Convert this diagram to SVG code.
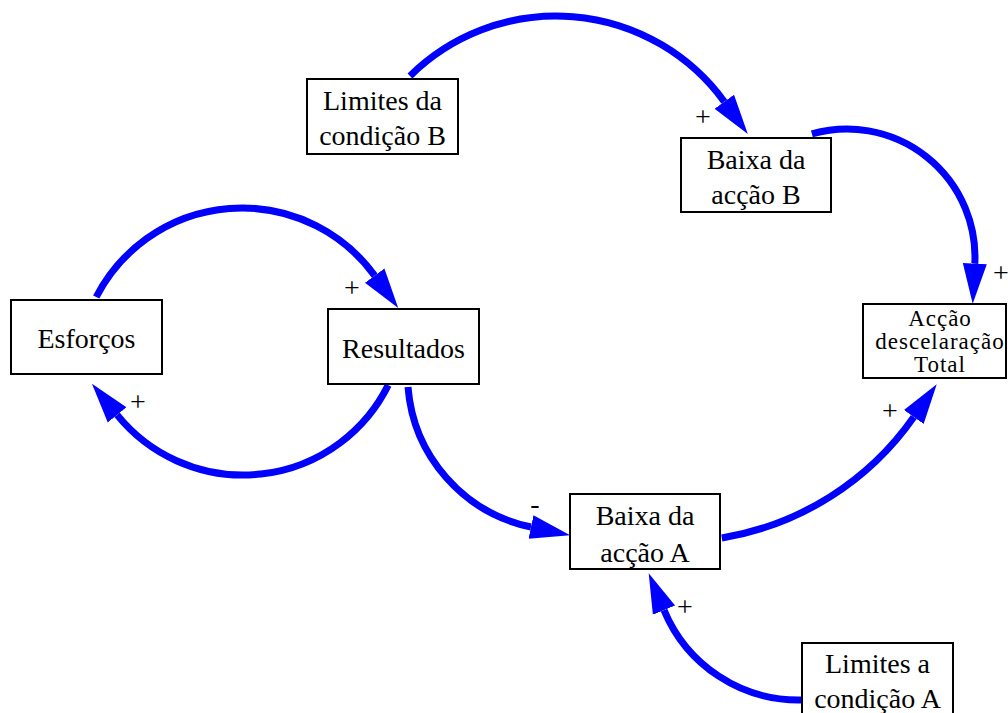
<svg xmlns="http://www.w3.org/2000/svg" width="1008" height="713" viewBox="0 0 1008 713">
<defs>
<style>
.box{fill:#fff;stroke:#000;stroke-width:2}
.t{font-family:"Liberation Serif","Times New Roman",serif;font-size:28px;fill:#000;text-anchor:middle}
.ts{font-family:"Liberation Serif","Times New Roman",serif;font-size:23px;fill:#000;text-anchor:middle;letter-spacing:1px}
.sg{font-family:"Liberation Serif","Times New Roman",serif;font-size:28px;fill:#000;text-anchor:middle}
.arc{fill:none;stroke:#0000ff;stroke-width:7;marker-end:url(#ah)}
</style>
<marker id="ah" markerUnits="userSpaceOnUse" viewBox="0 -13 42 26" refX="0" refY="0" markerWidth="42" markerHeight="26" orient="auto">
<path d="M0,-12 L40,0 L0,12 Z" fill="#0000ff"/>
</marker>
</defs>
<rect width="1008" height="713" fill="#fff"/>
<g id="connectors">
<path class="arc" d="M410,75.9 A208,208 0 0 1 724.3,101.7"/>
<path class="arc" d="M811.9,133.9 A128,128 0 0 1 974.8,263.7"/>
<path class="arc" d="M96.2,297 A164,164 0 0 1 374.7,275.6"/>
<path class="arc" d="M388.2,385.1 A162,162 0 0 1 117.1,414.9"/>
<path class="arc" d="M408,387 A155.3,155.3 0 0 0 531,527"/>
<path class="arc" d="M721.8,538 A292.8,292.8 0 0 0 913.8,417"/>
<path class="arc" d="M801.1,700 A145.7,145.7 0 0 1 664,610.1"/>
</g>
<g id="signs">
<text class="sg" x="703" y="126">+</text>
<text class="sg" x="1001" y="282">+</text>
<text class="sg" x="352" y="297">+</text>
<text class="sg" x="138" y="411">+</text>
<text class="sg" x="890" y="420">+</text>
<text class="sg" x="535" y="513">-</text>
<text class="sg" x="685" y="616">+</text>
</g>
<g id="limites-b">
<rect class="box" x="307" y="79" width="151" height="75"/>
<text class="t" x="382.5" y="110">Limites da</text>
<text class="t" x="382.5" y="145">condição B</text>
</g>
<g id="baixa-b">
<rect class="box" x="681" y="138" width="150" height="74"/>
<text class="t" x="756" y="169">Baixa da</text>
<text class="t" x="756" y="204">acção B</text>
</g>
<g id="accao-total">
<rect class="box" x="863" y="304" width="143" height="74"/>
<text class="ts" x="940" y="326">Acção</text>
<text class="ts" x="940" y="349">descelaração</text>
<text class="ts" x="940" y="372">Total</text>
</g>
<g id="esforcos">
<rect class="box" x="11" y="300" width="151" height="74"/>
<text class="t" x="86.5" y="348">Esforços</text>
</g>
<g id="resultados">
<rect class="box" x="328" y="309" width="151" height="75"/>
<text class="t" x="403.5" y="358">Resultados</text>
</g>
<g id="baixa-a">
<rect class="box" x="570" y="494" width="150" height="75"/>
<text class="t" x="645" y="525">Baixa da</text>
<text class="t" x="645" y="562">acção A</text>
</g>
<g id="limites-a">
<rect class="box" x="802" y="643" width="151" height="75"/>
<text class="t" x="877.5" y="673">Limites a</text>
<text class="t" x="877.5" y="708">condição A</text>
</g>
</svg>
